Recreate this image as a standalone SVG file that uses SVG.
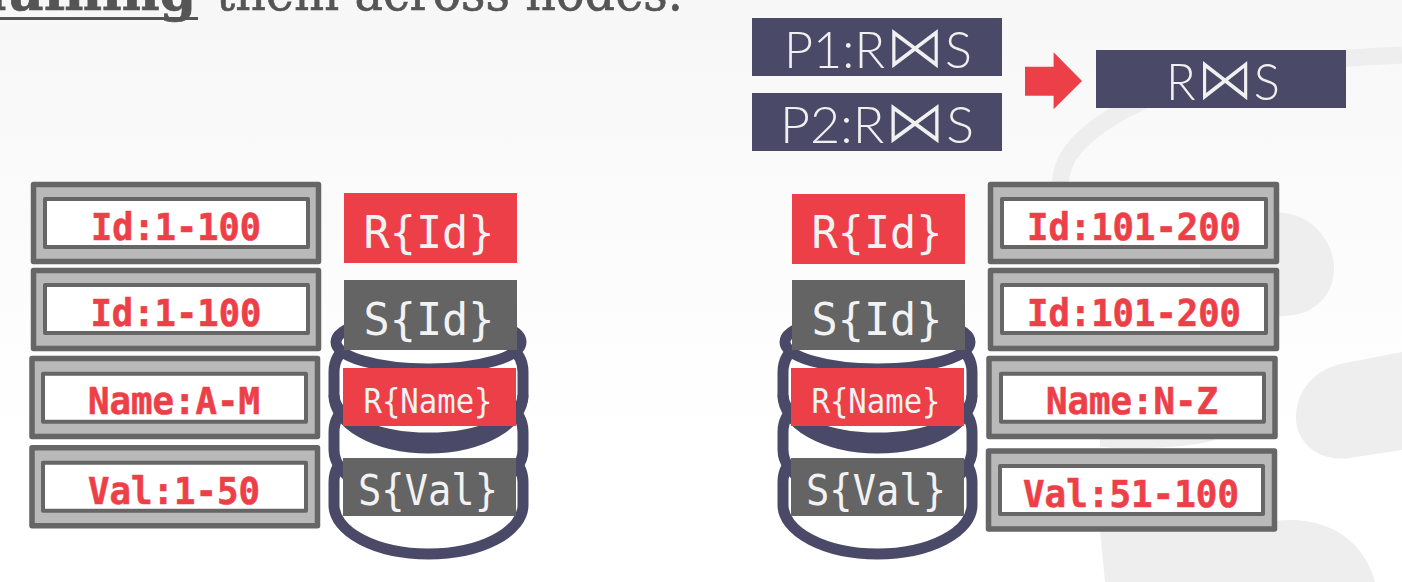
<svg xmlns="http://www.w3.org/2000/svg" width="1402" height="582" viewBox="0 0 1402 582">
<style>
.mono{font-family:"DejaVu Sans Mono","Liberation Mono",monospace}
.range{font-size:37px;font-weight:700;fill:#ed3f48;stroke:#ed3f48;stroke-width:.6;text-anchor:middle}
.outer{fill:#b9b9b9;stroke:#666;stroke-width:5.500;stroke-linejoin:round}
.inner{fill:#fff;stroke:#666;stroke-width:4;stroke-linejoin:round}
.tag{fill:#f2f2f2;text-anchor:middle}
.red{fill:#ed3f48}.gray{fill:#646464}.navy{fill:#4a4a68}
.cyl{fill:none;stroke:#4a4a68;stroke-width:11}
.cylw{fill:#fff;stroke:#4a4a68;stroke-width:11}
.join{font-family:Lato,"DejaVu Sans",sans-serif;font-weight:300;font-size:52px;fill:#f0f0f0;text-anchor:middle}
.bow{font-family:"DejaVu Sans",sans-serif;font-size:62px;stroke:#4a4a68;stroke-width:1.800}
.head{font-family:"DejaVu Serif","Liberation Serif",serif;font-size:52px;fill:#555;stroke:#555;stroke-width:.7}
.wm{fill:#eeeeee}
</style>
<defs>
<linearGradient id="bg" x1="0" y1="0" x2="0" y2="1"><stop offset="0" stop-color="#f7f7f7"/><stop offset="0.75" stop-color="#ffffff"/></linearGradient>
<g id="cylinder">
<path class="cylw" d="M350,455C340,461 334,470 334,482V505A94.500,49 0 0 0 523,505V482C523,470 517,461 507,455Z"/>
<path class="cylw" d="M350,405C340,411 334,420 334,432V450A94.500,50 0 0 0 523,450V432C523,420 517,411 507,405Z"/>
<path class="cylw" d="M350,345C340,351 334,360 334,372V395A94.500,53 0 0 0 523,395V372C523,360 517,351 507,345Z"/>
<path class="cyl" d="M334,395A94.500,43 0 0 0 523,395"/>
<ellipse class="cylw" cx="428.500" cy="342" rx="92.500" ry="27"/>
</g>
</defs>
<rect width="1402" height="582" fill="url(#bg)"/>
<g id="watermark">
<path d="M1402,55C1290,60 1170,75 1100,125C1065,150 1058,170 1060,200" fill="none" stroke="#eeeeee" stroke-width="17"/>
<path class="wm" d="M1200,205L1285,213C1320,218 1335,250 1334,270C1333,295 1315,315 1285,316L1200,320Z"/>
<path class="wm" d="M1402,352L1340,364C1310,372 1295,395 1296,420C1298,445 1320,462 1350,458L1402,450Z"/>
<path class="wm" d="M1100,420L1215,420L1215,440C1190,448 1130,450 1100,447Z"/>
<path class="wm" d="M1100,530L1290,520C1335,520 1365,545 1375,582H1105Z"/>
</g>
<g id="heading">
<text class="head" x="196" y="10" text-anchor="end" font-weight="700">shuffling</text>
<rect x="0" y="17" width="198" height="3" fill="#555"/>
<text class="head" x="216" y="10" textLength="467" lengthAdjust="spacingAndGlyphs">them across nodes.</text>
</g>
<g id="connectors">
<path class="red" d="M1025,66.700H1053.600V52.300L1082,81L1053.600,109.300V95.700H1025Z"/>
</g>
<g id="node-p1"><rect class="navy" x="752" y="18" width="250" height="58"/><text class="join" x="878" y="68" textLength="188" lengthAdjust="spacingAndGlyphs">P1:R<tspan class="bow">⋈</tspan>S</text></g>
<g id="node-p2"><rect class="navy" x="752" y="93" width="250" height="58"/><text class="join" x="877" y="143" textLength="194" lengthAdjust="spacingAndGlyphs">P2:R<tspan class="bow">⋈</tspan>S</text></g>
<g id="node-result"><rect class="navy" x="1096" y="50" width="250" height="58"/><text class="join" x="1223" y="100" textLength="114" lengthAdjust="spacingAndGlyphs">R<tspan class="bow">⋈</tspan>S</text></g>

<g id="disk-left"><use href="#cylinder"/></g>
<g id="disk-right"><use href="#cylinder" x="449"/></g>

<g id="node-l1"><rect class="outer" x="33.500" y="184.500" width="285" height="77"/><rect class="inner" x="45" y="199" width="263" height="48"/><text class="mono range" x="176" y="240" textLength="170" lengthAdjust="spacingAndGlyphs">Id:1-100</text></g>
<g id="node-l2"><rect class="outer" x="33.500" y="270.500" width="285" height="78"/><rect class="inner" x="45" y="285" width="263" height="48"/><text class="mono range" x="176" y="326" textLength="171" lengthAdjust="spacingAndGlyphs">Id:1-100</text></g>
<g id="node-l3"><rect class="outer" x="32" y="358.500" width="285.500" height="78"/><rect class="inner" x="43" y="373.700" width="263" height="48"/><text class="mono range" x="174" y="414" textLength="172" lengthAdjust="spacingAndGlyphs">Name:A-M</text></g>
<g id="node-l4"><rect class="outer" x="32" y="447.800" width="285.500" height="78"/><rect class="inner" x="43" y="462.700" width="263" height="48"/><text class="mono range" x="174" y="504" textLength="172" lengthAdjust="spacingAndGlyphs">Val:1-50</text></g>

<g id="node-r-id-l"><rect class="red" x="344" y="193" width="173" height="70"/><text class="mono tag" x="429" y="248" font-size="45" textLength="131" lengthAdjust="spacingAndGlyphs">R{Id}</text></g>
<g id="node-s-id-l"><rect class="gray" x="344" y="280" width="173" height="70"/><text class="mono tag" x="429" y="335" font-size="45" textLength="131" lengthAdjust="spacingAndGlyphs">S{Id}</text></g>
<g id="node-r-name-l"><rect class="red" x="343" y="368" width="173" height="58"/><text class="mono tag" x="428" y="413" font-size="33" textLength="129" lengthAdjust="spacingAndGlyphs">R{Name}</text></g>
<g id="node-s-val-l"><rect class="gray" x="343" y="458" width="173" height="58"/><text class="mono tag" x="428" y="505" font-size="43" textLength="140" lengthAdjust="spacingAndGlyphs">S{Val}</text></g>

<g id="node-r-id-r"><rect class="red" x="792" y="194" width="173" height="70"/><text class="mono tag" x="877" y="248" font-size="45" textLength="131" lengthAdjust="spacingAndGlyphs">R{Id}</text></g>
<g id="node-s-id-r"><rect class="gray" x="792" y="280" width="173" height="70"/><text class="mono tag" x="877" y="335" font-size="45" textLength="131" lengthAdjust="spacingAndGlyphs">S{Id}</text></g>
<g id="node-r-name-r"><rect class="red" x="791" y="368" width="173" height="58"/><text class="mono tag" x="876" y="413" font-size="33" textLength="129" lengthAdjust="spacingAndGlyphs">R{Name}</text></g>
<g id="node-s-val-r"><rect class="gray" x="791" y="458" width="173" height="58"/><text class="mono tag" x="876" y="505" font-size="43" textLength="140" lengthAdjust="spacingAndGlyphs">S{Val}</text></g>

<g id="node-r1"><rect class="outer" x="990.500" y="184.500" width="286" height="77"/><rect class="inner" x="1002" y="199" width="264" height="48"/><text class="mono range" x="1134" y="240" textLength="214" lengthAdjust="spacingAndGlyphs">Id:101-200</text></g>
<g id="node-r2"><rect class="outer" x="990.500" y="270.500" width="286" height="78"/><rect class="inner" x="1002" y="285" width="264" height="48"/><text class="mono range" x="1134" y="326" textLength="214" lengthAdjust="spacingAndGlyphs">Id:101-200</text></g>
<g id="node-r3"><rect class="outer" x="989" y="358.500" width="286" height="78"/><rect class="inner" x="1001" y="373.700" width="263" height="48"/><text class="mono range" x="1132" y="414" textLength="172" lengthAdjust="spacingAndGlyphs">Name:N-Z</text></g>
<g id="node-r4"><rect class="outer" x="988.500" y="451" width="286" height="78"/><rect class="inner" x="1000" y="466" width="263" height="48"/><text class="mono range" x="1131" y="507" textLength="216" lengthAdjust="spacingAndGlyphs">Val:51-100</text></g>
</svg>
